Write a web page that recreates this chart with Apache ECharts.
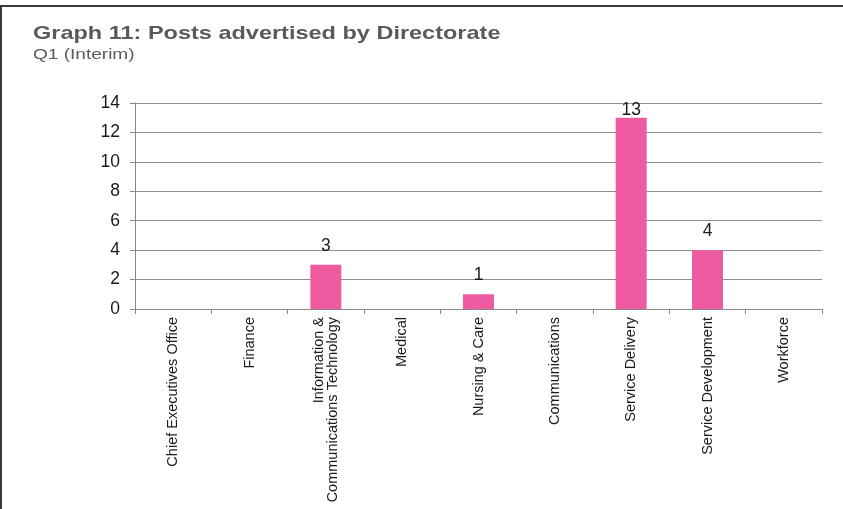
<!DOCTYPE html>
<html>
<head>
<meta charset="utf-8">
<script src="https://cdn.jsdelivr.net/npm/echarts@6/dist/echarts.min.js"></script>
<style>
  html, body { margin: 0; padding: 0; background: #fff; }
  #chart { width: 843px; height: 509px; }
</style>
</head>
<body>
<div id="chart"></div>
<script>
// Directorates along the x-axis
const categories = [
  'Chief Executives Office',
  'Finance',
  'Information &\nCommunications Technology',
  'Medical',
  'Nursing & Care',
  'Communications',
  'Service Delivery',
  'Service Development',
  'Workforce'
];
// Posts advertised in Q1 (interim)
const postsAdvertised = [0, 0, 3, 0, 1, 0, 13, 4, 0];
// Value axis range
const yMin = 0;
const yMax = 14;
const yStep = 2;

const chartTitle = 'Graph 11: Posts advertised by Directorate';
const chartSubtitle = 'Q1 (Interim)';

const chart = echarts.init(document.getElementById('chart'), null, { renderer: 'canvas' });
const font = '"Liberation Sans", Arial, sans-serif';

const grid = { left: 135, right: 21, top: 103, bottom: 200 };
const plotHeight = 509 - grid.top - grid.bottom;
const labelFont = 17.5;
const labelGap = 10;

// Value labels sit above their bars, but are kept inside the plot area
// when the bar comes too close to the top.
function labelDistance(v) {
  const room = (yMax - v) / (yMax - yMin) * plotHeight;
  return room < labelGap + labelFont + 2 ? -1 : labelGap;
}

chart.setOption({
  animation: false,
  backgroundColor: '#ffffff',
  grid: Object.assign({ containLabel: false }, grid),
  xAxis: {
    type: 'category',
    data: categories,
    boundaryGap: true,
    axisLine: { show: true, lineStyle: { color: '#8a8a8a', width: 1 } },
    axisTick: { show: true, alignWithLabel: false, length: 5, lineStyle: { color: '#8a8a8a' } },
    axisLabel: {
      interval: 0,
      rotate: 90,
      margin: 8,
      fontFamily: font,
      fontSize: 14.5,
      lineHeight: 14,
      color: '#1a1a1a'
    },
    splitLine: { show: false }
  },
  yAxis: {
    type: 'value',
    min: yMin,
    max: yMax,
    interval: yStep,
    axisLine: { show: true, lineStyle: { color: '#8a8a8a', width: 1 } },
    axisTick: { show: true, length: 5, lineStyle: { color: '#8a8a8a' } },
    axisLabel: { fontFamily: font, fontSize: 17.5, color: '#1a1a1a', margin: 15 },
    splitLine: { show: true, lineStyle: { color: '#8f8f8f', width: 1 } }
  },
  series: [{
    type: 'bar',
    data: postsAdvertised.map(v => ({
      value: v,
      label: { show: v > 0, distance: labelDistance(v) }
    })),
    barWidth: 31,
    itemStyle: { color: '#ef5ba1' },
    label: {
      show: true,
      position: 'top',
      fontFamily: font,
      fontSize: labelFont,
      color: '#1a1a1a'
    }
  }],
  graphic: [
    { type: 'rect', shape: { x: 0, y: 5, width: 843, height: 2 }, style: { fill: '#3a3a3a' }, silent: true },
    { type: 'rect', shape: { x: 0, y: 5, width: 2, height: 504 }, style: { fill: '#3a3a3a' }, silent: true },
    {
      type: 'text', x: 33, y: 24, scaleX: 1.27, silent: true,
      style: {
        text: chartTitle,
        font: 'bold 18.5px "Liberation Sans", Arial, sans-serif',
        fill: '#5a5a5a',
        verticalAlign: 'top'
      }
    },
    {
      type: 'text', x: 33, y: 48, scaleX: 1.36, silent: true,
      style: {
        text: chartSubtitle,
        font: '14px "Liberation Sans", Arial, sans-serif',
        fill: '#5a5a5a',
        verticalAlign: 'top'
      }
    }
  ]
});
</script>
</body>
</html>
